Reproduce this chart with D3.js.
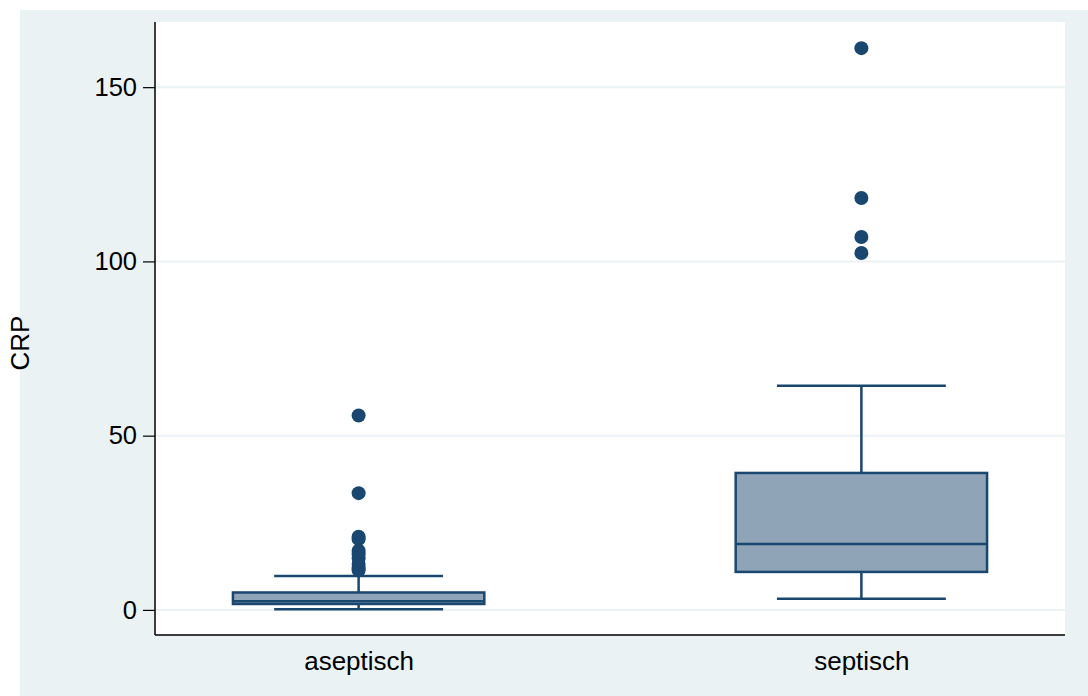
<!DOCTYPE html>
<html>
<head>
<meta charset="utf-8">
<script src="https://cdn.jsdelivr.net/npm/d3@7"></script>
<style>
  body { margin: 0; background: #fff; }
  text { font-family: "Liberation Sans", Arial, sans-serif; fill: #000; }
</style>
</head>
<body>
<div id="app"></div>
<script>
const groups   = ["aseptisch", "septisch"],
      q1       = [1.7, 10.9],
      median   = [2.5, 18.9],
      q3       = [5.0, 39.3],
      whiskLo  = [0.2, 3.2],
      whiskHi  = [9.75, 64.3],
      outliers = [
        [55.8, 33.5, 21.0, 20.3, 17.0, 16.0, 14.8, 13.2, 12.0, 11.4],
        [161.2, 118.2, 107.0, 102.4]
      ],
      yTicks   = [0, 50, 100, 150];

const W = 1088, H = 696,
      margin = { top: 22, right: 23, bottom: 61, left: 155 },
      width  = W - margin.left - margin.right,
      height = H - margin.top - margin.bottom,
      navy = "#1a476f";

const x = d3.scalePoint().domain(groups).range([0, width]).padding(0.405);
const y = d3.scaleLinear().domain([-7.2, 168.7]).range([height, 0]);
const step = x.step();

const svg = d3.select("#app").append("svg")
  .attr("width", W).attr("height", H);

/* outer panel */
svg.append("rect")
  .attr("x", 20).attr("y", 10).attr("width", W - 20).attr("height", H - 10)
  .attr("fill", "#eaf2f3");

const g = svg.append("g").attr("transform", `translate(${margin.left},${margin.top})`);

g.append("rect").attr("width", width).attr("height", height).attr("fill", "#fff");

/* grid */
g.selectAll(".grid").data(yTicks).enter().append("line")
  .attr("x1", 0).attr("x2", width)
  .attr("y1", d => y(d)).attr("y2", d => y(d))
  .attr("stroke", "#eaf2f3").attr("stroke-width", 2);

/* y axis */
const yAxis = g.append("g")
  .call(d3.axisLeft(y).tickValues(yTicks).tickSize(12).tickPadding(6).tickSizeOuter(0));
yAxis.select(".domain").remove();
yAxis.selectAll("line").attr("stroke", "#000").attr("stroke-width", 1.2);
yAxis.selectAll("text").style("font-size", "25.5px");
g.append("line").attr("x1", 0).attr("x2", 0).attr("y1", 0).attr("y2", height)
  .attr("stroke", "#000").attr("stroke-width", 1.5);

/* x axis */
const xAxis = g.append("g").attr("transform", `translate(0,${height})`)
  .call(d3.axisBottom(x).tickSize(0).tickPadding(17));
xAxis.select(".domain").remove();
xAxis.selectAll("text").style("font-size", "26px");
g.append("line").attr("x1", 0).attr("x2", width).attr("y1", height).attr("y2", height)
  .attr("stroke", "#000").attr("stroke-width", 1.5);

/* y title */
svg.append("text")
  .attr("transform", "translate(29,343) rotate(-90)")
  .attr("text-anchor", "middle").style("font-size", "26px")
  .text("CRP");

/* boxes */
const boxW = step * 0.5, capW = step * 0.336;
groups.forEach((grp, i) => {
  const cx = x(grp);
  const b = g.append("g");
  b.append("line").attr("x1", cx).attr("x2", cx)
    .attr("y1", y(whiskHi[i])).attr("y2", y(q3[i]))
    .attr("stroke", navy).attr("stroke-width", 2.5);
  b.append("line").attr("x1", cx).attr("x2", cx)
    .attr("y1", y(q1[i])).attr("y2", y(whiskLo[i]))
    .attr("stroke", navy).attr("stroke-width", 2.5);
  [whiskHi[i], whiskLo[i]].forEach(v => {
    b.append("line").attr("x1", cx - capW / 2).attr("x2", cx + capW / 2)
      .attr("y1", y(v)).attr("y2", y(v))
      .attr("stroke", navy).attr("stroke-width", 2.5);
  });
  b.append("rect")
    .attr("x", cx - boxW / 2).attr("width", boxW)
    .attr("y", y(q3[i])).attr("height", y(q1[i]) - y(q3[i]))
    .attr("fill", "#90a4b7").attr("stroke", navy).attr("stroke-width", 2.5);
  b.append("line").attr("x1", cx - boxW / 2).attr("x2", cx + boxW / 2)
    .attr("y1", y(median[i])).attr("y2", y(median[i]))
    .attr("stroke", navy).attr("stroke-width", 2.5);
  b.selectAll("circle").data(outliers[i]).enter().append("circle")
    .attr("cx", cx).attr("cy", d => y(d)).attr("r", 7)
    .attr("fill", navy);
});
</script>
</body>
</html>
